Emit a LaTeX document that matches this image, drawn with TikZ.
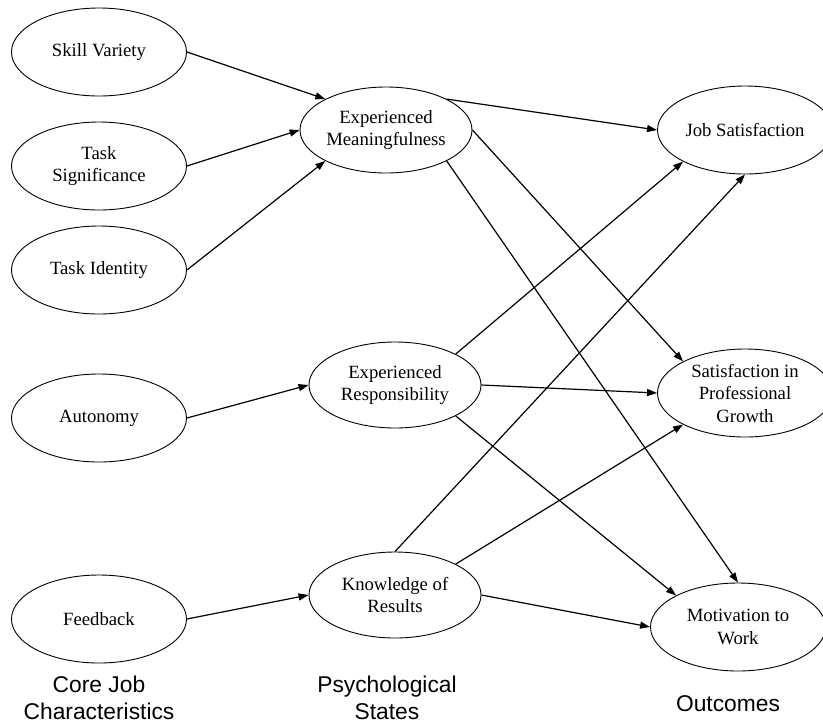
\documentclass[tikz,border=0pt]{standalone}
\usepackage{fontspec}
\setmainfont{Liberation Serif}
\newfontfamily\capfont{Liberation Sans}
\usetikzlibrary{shapes.geometric,arrows.meta}

\begin{document}
\begin{tikzpicture}[x=1pt,y=-1pt,
        state/.style={draw, ellipse, line width=0.9pt, minimum width=175pt, minimum height=88pt,
            inner sep=0pt, align=center, font=\fontsize{18.7}{22.5}\selectfont},
        caption/.style={align=center, font=\capfont\fontsize{22.8}{27}\selectfont},
        link/.style={line width=1.2pt, -{Triangle[length=10pt,width=7pt]}}]
        \useasboundingbox (0,0) rectangle (823,724);
        \node[state] (sv) at (99,52) {Skill Variety};
        \node[state] (ts) at (99,166) {Task\\Significance};
        \node[state] (ti) at (99,270) {Task Identity};
        \node[state] (au) at (99,418) {Autonomy};
        \node[state] (fb) at (99,619) {Feedback};
        \node[state, minimum width=172pt, minimum height=86pt] (em) at (386,130) {Experienced\\Meaningfulness};
        \node[state, minimum width=172pt, minimum height=86pt] (er) at (395,385) {Experienced\\Responsibility};
        \node[state, minimum width=172pt, minimum height=86pt] (kr) at (395,595) {Knowledge of\\Results};
        \node[state] (js) at (745,130) {Job Satisfaction};
        \node[state] (spg) at (745,393) {Satisfaction in\\Professional\\Growth};
        \node[state] (mw) at (738,627) {Motivation to\\Work};
        \node[caption] (core) at (99,698) {Core Job\\Characteristics};
        \node[caption] (psy) at (387,698) {Psychological\\States};
        \node[caption] (out) at (728,704) {Outcomes};
        \draw[link] (sv.east) -- (em.153);
        \draw[link] (ts.east) -- (em.west);
        \draw[link] (ti.east) -- (em.207);
        \draw[link] (au.east) -- (er.west);
        \draw[link] (fb.east) -- (kr.west);
        \draw[link] (em.27) -- (js.west);
        \draw[link] (em.east) -- (spg.153);
        \draw[link] (em.-27) -- (mw.north);
        \draw[link] (er.27) -- (js.207);
        \draw[link] (er.east) -- (spg.west);
        \draw[link] (er.-27) -- (mw.153);
        \draw[link] (kr.north) -- (js.south);
        \draw[link] (kr.27) -- (spg.207);
        \draw[link] (kr.east) -- (mw.west);
\end{tikzpicture}
\end{document}
